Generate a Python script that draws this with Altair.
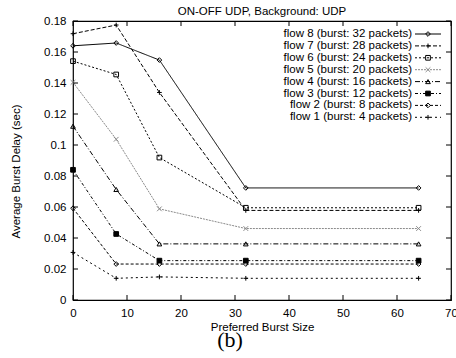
import altair as alt
import pandas as pd

# Preferred burst size (x) and measured average burst delay in seconds (y)
burst_size = [0, 8, 16, 32, 64]
flow8_delay = [0.1640, 0.1658, 0.1548, 0.0723, 0.0723]
flow7_delay = [0.1718, 0.1774, 0.1339, 0.0578, 0.0578]
flow6_delay = [0.1541, 0.1455, 0.0919, 0.0595, 0.0595]
flow5_delay = [0.1404, 0.1037, 0.0588, 0.0461, 0.0461]
flow4_delay = [0.1121, 0.0713, 0.0362, 0.0362, 0.0362]
flow3_delay = [0.0840, 0.0426, 0.0254, 0.0254, 0.0254]
flow2_delay = [0.0592, 0.0232, 0.0232, 0.0232, 0.0232]
flow1_delay = [0.0307, 0.0140, 0.0149, 0.0140, 0.0140]

flows = ["flow 8", "flow 7", "flow 6", "flow 5", "flow 4", "flow 3", "flow 2", "flow 1"]
flow_labels = [
    "flow 8 (burst: 32 packets)",
    "flow 7 (burst: 28 packets)",
    "flow 6 (burst: 24 packets)",
    "flow 5 (burst: 20 packets)",
    "flow 4 (burst: 16 packets)",
    "flow 3 (burst: 12 packets)",
    "flow 2 (burst: 8 packets)",
    "flow 1 (burst: 4 packets)",
]
x_ticks = [0, 10, 20, 30, 40, 50, 60, 70]
y_ticks = [0, 0.02, 0.04, 0.06, 0.08, 0.1, 0.12, 0.14, 0.16, 0.18]

series = [flow8_delay, flow7_delay, flow6_delay, flow5_delay,
          flow4_delay, flow3_delay, flow2_delay, flow1_delay]
records = []
for name, values in zip(flows, series):
    for b, d in zip(burst_size, values):
        records.append({"flow": name, "burst": b, "delay": d})
df = pd.DataFrame(records)
legend_df = pd.DataFrame({"flow": flows, "label": flow_labels})
xtick_df = pd.DataFrame({"burst": x_ticks})
ytick_df = pd.DataFrame({"delay": y_ticks})

W, H = 378, 279
FONT = "Liberation Sans"
FS = 11.5

# gnuplot-like line types, marker shapes and fills per flow
line_colors = ["black", "black", "black", "#8a8a8a", "black", "black", "black", "black"]
line_dashes = [[1, 0], [4, 2], [2, 2], [2, 1], [5, 2, 1, 2], [3, 2, 1, 2], [3, 2], [2, 3]]
plus = "M-1,0L1,0M0,-1L0,1"
cross = "M-1,-1L1,1M-1,1L1,-1"
marker_shapes = ["diamond", plus, "square", cross, "triangle-up", "square", "diamond", plus]
marker_fills = ["transparent", "transparent", "transparent", "transparent",
                "transparent", "black", "transparent", "transparent"]

color_enc = alt.Color("flow:N", scale=alt.Scale(domain=flows, range=line_colors), legend=None)
dash_enc = alt.StrokeDash("flow:N", scale=alt.Scale(domain=flows, range=line_dashes), legend=None)
shape_enc = alt.Shape("flow:N", scale=alt.Scale(domain=flows, range=marker_shapes), legend=None)
fill_enc = alt.Fill("flow:N", scale=alt.Scale(domain=flows, range=marker_fills), legend=None)

x_axis = alt.Axis(values=x_ticks, title="Preferred Burst Size", titleY=30,
                  titleBaseline="alphabetic", labelPadding=7, labelOverlap=False,
                  labelFlush=False, format="d")
y_axis = alt.Axis(values=y_ticks, title="Average Burst Delay (sec)", titleX=-57, titleY=150,
                  titleBaseline="middle", labelPadding=7, labelOverlap=False,
                  labelFlush=False, format=".2~f")
x_enc = alt.X("burst:Q", scale=alt.Scale(domain=[0, 70], nice=False, zero=False), axis=x_axis)
y_enc = alt.Y("delay:Q", scale=alt.Scale(domain=[0, 0.18], nice=False), axis=y_axis)

lines = alt.Chart(df).mark_line(strokeWidth=1).encode(
    x=x_enc, y=y_enc, color=color_enc, strokeDash=dash_enc, detail="flow:N"
)
points = alt.Chart(df).mark_point(size=22, strokeWidth=1, opacity=1).encode(
    x=x_enc, y=y_enc, color=color_enc, shape=shape_enc, fill=fill_enc
)

# inward ticks on all four sides of the frame
tick_style = dict(color="black", strokeWidth=1)
bottom_ticks = alt.Chart(xtick_df).mark_rule(**tick_style).encode(
    x=x_enc, y=alt.value(H), y2=alt.value(H - 5))
top_ticks = alt.Chart(xtick_df).mark_rule(**tick_style).encode(
    x=x_enc, y=alt.value(0), y2=alt.value(5))
left_ticks = alt.Chart(ytick_df).mark_rule(**tick_style).encode(
    y=y_enc, x=alt.value(0), x2=alt.value(5))
right_ticks = alt.Chart(ytick_df).mark_rule(**tick_style).encode(
    y=y_enc, x=alt.value(W - 5), x2=alt.value(W))

main = alt.layer(lines, points, bottom_ticks, top_ticks, left_ticks, right_ticks)

# key in the upper right corner: label, then line sample with marker
row_enc = alt.Y("flow:N", sort=flows, scale=alt.Scale(type="point", domain=flows,
                                                       range=[13, 96.3], padding=0), axis=None)
key_text = alt.Chart(legend_df).mark_text(align="right", baseline="middle", font=FONT,
                                          fontSize=FS, color="black").encode(
    x=alt.value(339), y=row_enc, text="label:N")
key_line = alt.Chart(legend_df).mark_rule(strokeWidth=1).encode(
    x=alt.value(342), x2=alt.value(368), y=row_enc, color=color_enc, strokeDash=dash_enc)
key_mark = alt.Chart(legend_df).mark_point(size=22, strokeWidth=1, opacity=1).encode(
    x=alt.value(355), y=row_enc, color=color_enc, shape=shape_enc, fill=fill_enc)

# chart heading above the frame and the panel tag below the x title
heading = alt.Chart(pd.DataFrame({"t": ["ON-OFF UDP, Background: UDP"]})).mark_text(
    font=FONT, fontSize=FS, baseline="alphabetic", align="center", color="black"
).encode(x=alt.value(W / 2), y=alt.value(-6), text="t:N")
panel_tag = alt.Chart(pd.DataFrame({"t": ["(b)"]})).mark_text(
    font="Liberation Serif", fontSize=22, baseline="alphabetic", align="center", color="black"
).encode(x=alt.value(157), y=alt.value(H + 47), text="t:N")

key = alt.layer(key_text, key_line, key_mark, heading, panel_tag)

chart = (
    alt.layer(main, key)
    .resolve_scale(y="independent")
    .properties(
        width=W,
        height=H,
        background="white",
        autosize=alt.AutoSizeParams(type="none"),
        padding={"left": 73, "top": 21, "right": 5, "bottom": 58},
    )
    .configure_view(stroke="black", strokeWidth=1.2)
    .configure_axis(
        domain=False, ticks=False, grid=False,
        labelFont=FONT, labelFontSize=FS, labelColor="black",
        titleFont=FONT, titleFontSize=FS, titleFontWeight="normal", titleColor="black",
    )
)

chart.save("out.html", embed_options={"renderer": "svg", "actions": False})
